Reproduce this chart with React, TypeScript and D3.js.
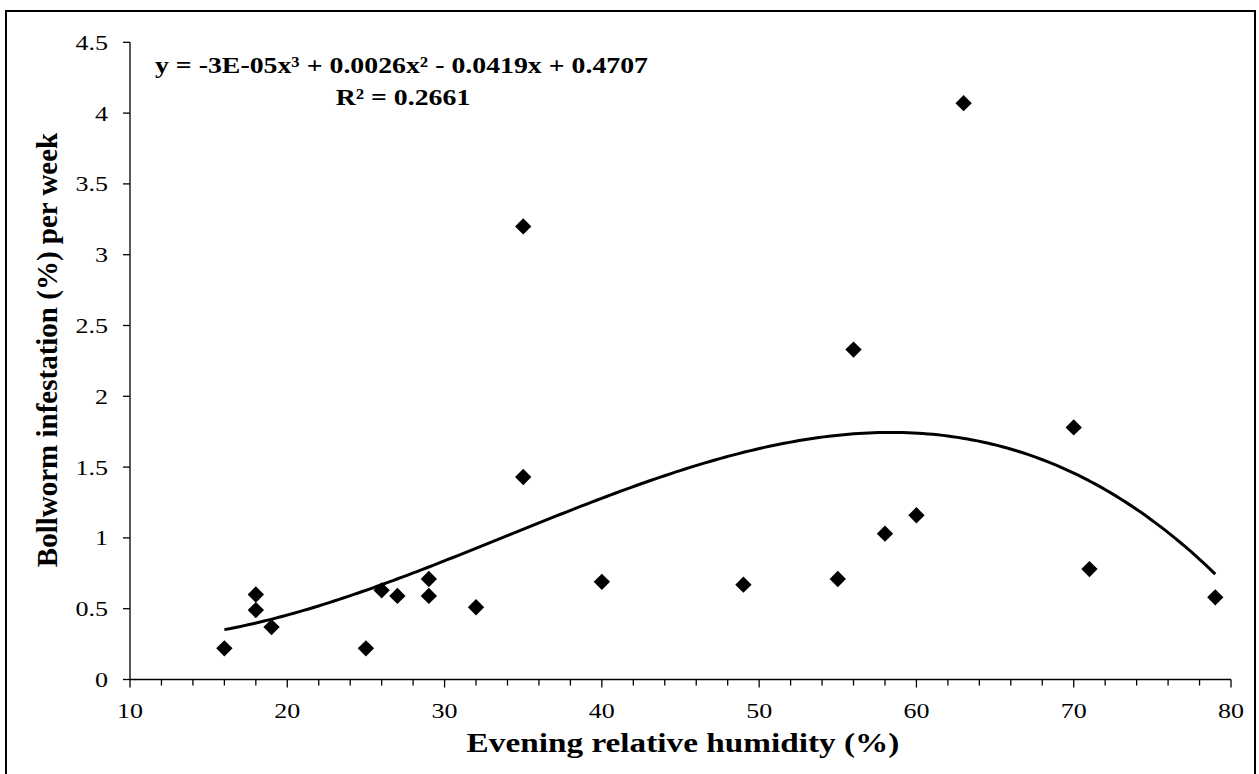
import React from "react";
import * as d3 from "d3";

const humidity = [16, 18, 18, 19, 25, 26, 27, 29, 29, 32, 35, 35, 40, 49, 55, 56, 58, 60, 63, 70, 71, 79];
const infestation = [0.22, 0.6, 0.49, 0.37, 0.22, 0.63, 0.59, 0.71, 0.59, 0.51, 3.2, 1.43, 0.69, 0.67, 0.71, 2.33, 1.03, 1.16, 4.07, 1.78, 0.78, 0.58];
const xTicks = [10, 20, 30, 40, 50, 60, 70, 80];
const yTicks = [0, 0.5, 1, 1.5, 2, 2.5, 3, 3.5, 4, 4.5];
const equationText = "y = -3E-05x³ + 0.0026x² - 0.0419x + 0.4707";
const r2Text = "R² = 0.2661";
const xTitle = "Evening relative humidity (%)";
const yTitle = "Bollworm infestation (%) per week";

function fitCubic(xs: number[], ys: number[]): number[] {
  const n = 4;
  const A: number[][] = Array.from({ length: n }, () => new Array(n + 1).fill(0));
  for (let k = 0; k < xs.length; k++) {
    const p = [1, xs[k], xs[k] ** 2, xs[k] ** 3];
    for (let i = 0; i < n; i++) {
      for (let j = 0; j < n; j++) A[i][j] += p[i] * p[j];
      A[i][n] += p[i] * ys[k];
    }
  }
  for (let i = 0; i < n; i++) {
    let m = i;
    for (let r = i + 1; r < n; r++) if (Math.abs(A[r][i]) > Math.abs(A[m][i])) m = r;
    [A[i], A[m]] = [A[m], A[i]];
    for (let r = 0; r < n; r++) {
      if (r === i) continue;
      const f = A[r][i] / A[i][i];
      for (let c = i; c <= n; c++) A[r][c] -= f * A[i][c];
    }
  }
  return A.map((row, i) => row[n] / row[i]);
}

const SX = 1.21;

function T(props: { x: number; y: number; anchor?: string; size: number; bold?: boolean; children: React.ReactNode; dy?: string }) {
  return (
    <text
      transform={`translate(${props.x},${props.y}) scale(${SX},1)`}
      textAnchor={props.anchor || "start"}
      fontSize={props.size}
      fontWeight={props.bold ? "bold" : "normal"}
      dy={props.dy}
    >
      {props.children}
    </text>
  );
}

export default function App() {
  const W = 1259, H = 774;
  const x = d3.scaleLinear().domain([10, 80]).range([130, 1231]);
  const y = d3.scaleLinear().domain([0, 4.5]).range([679.5, 42.3]);
  const coef = fitCubic(humidity, infestation);
  const f = (v: number) => coef[0] + coef[1] * v + coef[2] * v * v + coef[3] * v ** 3;
  const xMin = d3.min(humidity)!, xMax = d3.max(humidity)!;
  const curvePts = d3.range(0, 201).map(i => {
    const v = xMin + (xMax - xMin) * i / 200;
    return [x(v), y(f(v))] as [number, number];
  });
  const line = d3.line().curve(d3.curveLinear)(curvePts) || "";
  const minorTicks = d3.range(10, 80.01, 2);
  const diamond = d3.symbol().type(d3.symbolDiamond2).size(170)() || "";
  const font = "'Liberation Serif', 'Times New Roman', serif";

  return (
    <svg width={W} height={H} style={{ position: "absolute", left: 0, top: 0, background: "#fff" }} fontFamily={font}>
      <rect x={6} y={11} width={1249} height={780} fill="#fff" stroke="#000" strokeWidth={2} />
      {/* y axis */}
      <line x1={130} x2={130} y1={y(4.5)} y2={y(0)} stroke="#000" strokeWidth={1.3} />
      {yTicks.map(t => (
        <g key={"y" + t}>
          <line x1={123} x2={130} y1={y(t)} y2={y(t)} stroke="#000" strokeWidth={1.3} />
          <T x={108} y={y(t)} dy="0.35em" anchor="end" size={21.5}>{t}</T>
        </g>
      ))}
      {/* x axis */}
      <line x1={x(10)} x2={x(80)} y1={y(0)} y2={y(0)} stroke="#000" strokeWidth={1.3} />
      {minorTicks.map(t => (
        <line key={"m" + t} x1={x(t)} x2={x(t)} y1={y(0)} y2={y(0) + (t % 10 === 0 ? 8 : 6)} stroke="#000" strokeWidth={1.3} />
      ))}
      {xTicks.map(t => (
        <T key={"x" + t} x={x(t)} y={718} anchor="middle" size={21.5}>{t}</T>
      ))}
      {/* trendline */}
      <path d={line} fill="none" stroke="#000" strokeWidth={3} />
      {/* points */}
      {humidity.map((h, i) => (
        <path key={"p" + i} d={diamond} transform={`translate(${x(h)},${y(infestation[i])})`} fill="#000" />
      ))}
      {/* equation */}
      <T x={155} y={73} size={23} bold>{equationText}</T>
      <T x={403} y={105} anchor="middle" size={23} bold>{r2Text}</T>
      {/* titles */}
      <T x={683} y={752} anchor="middle" size={27.5} bold>{xTitle}</T>
      <text transform="translate(57,350) rotate(-90)" textAnchor="middle" fontSize={29} fontWeight="bold">{yTitle}</text>
    </svg>
  );
}
